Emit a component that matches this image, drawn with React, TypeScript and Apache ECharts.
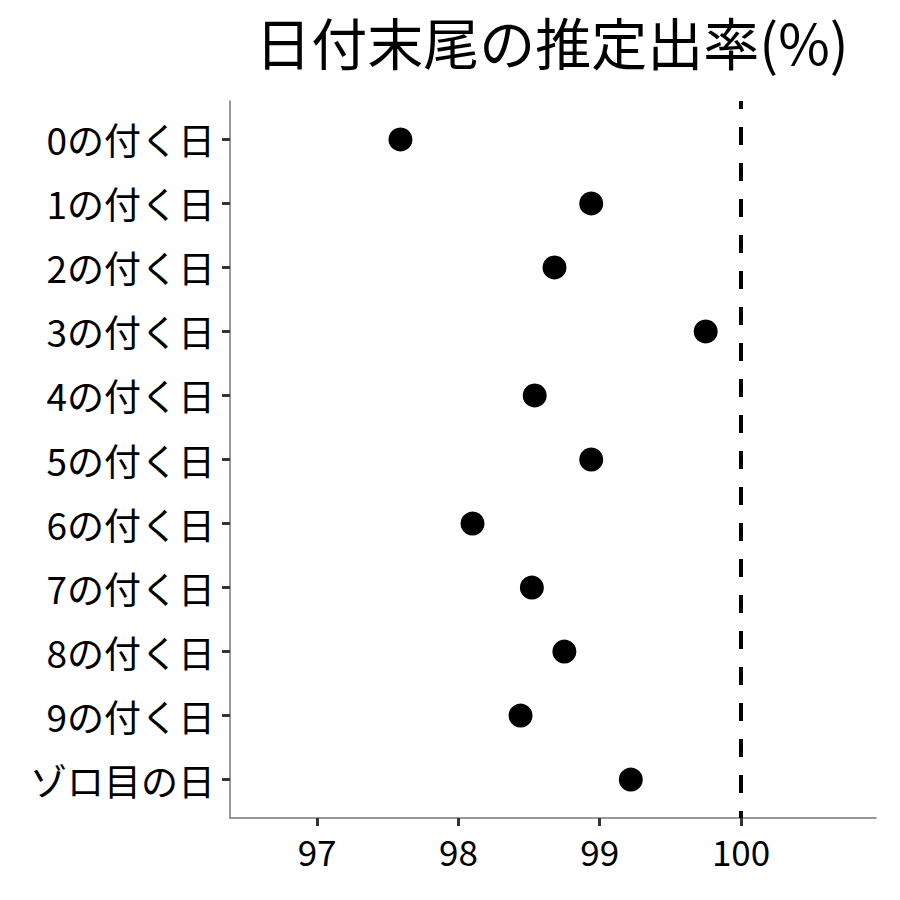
import React, { useEffect, useRef } from "react";
import * as echarts from "echarts";

const categories = ["0の付く日", "1の付く日", "2の付く日", "3の付く日", "4の付く日", "5の付く日", "6の付く日", "7の付く日", "8の付く日", "9の付く日", "ゾロ目の日"];
const values = [97.59, 98.94, 98.68, 99.75, 98.54, 98.94, 98.1, 98.52, 98.75, 98.44, 99.22];
const xTicks = [97, 98, 99, 100];
const refLine = 100;
const title = "日付末尾の推定出率(%)";

const FONT = "'Noto Sans CJK JP', 'Noto Sans', sans-serif";

export default function App() {
  const ref = useRef<HTMLDivElement>(null);
  useEffect(() => {
    if (!ref.current) return;
    const chart = echarts.init(ref.current, null, { renderer: "svg" });
    const yIdx = categories.map((_, i) => i);
    chart.setOption({
      animation: false,
      backgroundColor: "#ffffff",
      title: {
        text: title,
        left: 552,
        top: 10,
        padding: 0,
        textAlign: "center",
        textStyle: { fontFamily: FONT, fontSize: 56, lineHeight: 60, fontWeight: "normal", color: "#000" },
      },
      grid: { left: 230, right: 24, top: 101, bottom: 82, containLabel: false },
      xAxis: {
        type: "value",
        min: 96.384,
        max: 100.955,
        splitLine: { show: false },
        axisLine: { show: true, onZero: false, lineStyle: { color: "#777", width: 1.5 } },
        axisTick: { show: true, length: 8, lineStyle: { color: "#333", width: 3 }, customValues: xTicks },
        axisLabel: {
          customValues: xTicks,
          margin: 15,
          fontFamily: FONT,
          fontSize: 35,
          color: "#000",
        },
      },
      yAxis: {
        type: "value",
        min: -0.6,
        max: 10.6,
        inverse: true,
        splitLine: { show: false },
        axisLine: { show: true, onZero: false, lineStyle: { color: "#777", width: 1.5 } },
        axisTick: { show: true, length: 8, lineStyle: { color: "#333", width: 3 }, customValues: yIdx },
        axisLabel: {
          customValues: yIdx,
          margin: 15,
          fontFamily: FONT,
          fontSize: 37,
          color: "#000",
          formatter: (v: number) => categories[Math.round(v)] ?? "",
        },
      },
      series: [
        {
          type: "scatter",
          data: values.map((v, i) => [v, i]),
          symbol: "circle",
          symbolSize: 24,
          itemStyle: { color: "#000", opacity: 1 },
          markLine: {
            silent: true,
            symbol: "none",
            label: { show: false },
            lineStyle: { color: "#000", width: 4, type: [18, 18], dashOffset: 10 },
            data: [{ xAxis: refLine }],
          },
        },
      ],
    });
    return () => chart.dispose();
  }, []);
  return <div ref={ref} style={{ width: 900, height: 900, margin: -8 }} />;
}
